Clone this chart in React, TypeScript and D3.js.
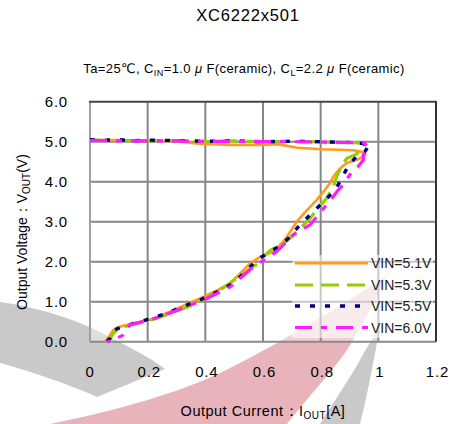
import React from "react";
import * as d3 from "d3";

// ---------- data (IOUT [A], VOUT [V]) ----------
const vin51: [number, number][] = [
  [0.0, 5.05], [0.05, 5.04], [0.1, 5.04], [0.15, 5.03], [0.2, 5.03], [0.25, 5.02], [0.3, 5.01],
  [0.35, 4.97], [0.4, 4.94], [0.45, 4.93], [0.49, 4.92], [0.55, 4.92], [0.6, 4.92], [0.65, 4.94],
  [0.72, 4.85], [0.8, 4.81], [0.87, 4.8], [0.92, 4.78], [0.945, 4.74], [0.955, 4.67],
  [0.93, 4.56], [0.89, 4.47], [0.867, 4.33], [0.844, 4.13], [0.832, 3.96], [0.81, 3.75],
  [0.786, 3.54], [0.75, 3.27], [0.717, 3.0], [0.69, 2.7], [0.67, 2.5], [0.635, 2.25],
  [0.59, 2.12], [0.555, 1.96], [0.52, 1.7], [0.486, 1.46], [0.44, 1.28], [0.393, 1.12],
  [0.34, 0.95], [0.289, 0.79], [0.24, 0.64], [0.202, 0.54], [0.16, 0.48], [0.127, 0.42],
  [0.1, 0.37], [0.081, 0.29], [0.065, 0.12], [0.052, 0.0],
];
const vin53: [number, number][] = [
  [0.0, 5.04], [0.05, 5.03], [0.1, 5.03], [0.2, 5.02], [0.3, 5.03], [0.4, 5.0], [0.5, 5.02],
  [0.6, 5.0], [0.7, 5.01], [0.8, 4.99], [0.9, 4.98], [0.953, 4.96], [0.948, 4.83],
  [0.919, 4.67], [0.89, 4.58], [0.872, 4.38], [0.855, 4.12], [0.844, 3.87], [0.82, 3.58],
  [0.79, 3.33], [0.763, 3.08], [0.717, 2.75], [0.68, 2.5], [0.625, 2.28], [0.601, 2.12],
  [0.59, 1.96], [0.57, 1.9], [0.52, 1.64], [0.451, 1.29], [0.4, 1.08], [0.358, 0.92],
  [0.29, 0.74], [0.231, 0.58], [0.18, 0.5], [0.139, 0.42], [0.1, 0.33], [0.081, 0.21],
  [0.07, 0.08], [0.058, 0.0],
];
const vin55: [number, number][] = [
  [0.0, 5.05], [0.05, 5.04], [0.1, 5.05], [0.15, 5.02], [0.2, 5.04], [0.3, 5.03], [0.4, 5.01],
  [0.5, 5.02], [0.6, 5.0], [0.7, 5.01], [0.8, 5.0], [0.9, 4.98], [0.971, 4.94],
  [0.953, 4.75], [0.925, 4.63], [0.902, 4.46], [0.885, 4.25], [0.867, 4.0], [0.85, 3.79],
  [0.815, 3.53], [0.78, 3.29], [0.728, 2.92], [0.69, 2.6], [0.66, 2.4], [0.624, 2.25],
  [0.578, 2.04], [0.54, 1.75], [0.497, 1.46], [0.44, 1.24], [0.381, 1.04], [0.32, 0.87],
  [0.266, 0.71], [0.22, 0.6], [0.173, 0.5], [0.116, 0.38], [0.081, 0.29], [0.069, 0.08],
  [0.058, 0.0],
];
const vin60: [number, number][] = [
  [0.0, 5.03], [0.05, 5.03], [0.1, 5.02], [0.2, 5.02], [0.3, 5.02], [0.4, 5.01], [0.5, 5.01],
  [0.6, 5.0], [0.7, 5.0], [0.8, 4.99], [0.9, 4.98], [0.953, 4.97], [0.965, 4.83],
  [0.959, 4.75], [0.948, 4.67], [0.948, 4.54], [0.93, 4.38], [0.913, 4.29], [0.896, 4.12],
  [0.879, 3.92], [0.861, 3.79], [0.835, 3.55], [0.81, 3.33], [0.763, 2.92], [0.705, 2.67],
  [0.675, 2.45], [0.647, 2.25], [0.566, 1.87], [0.52, 1.58], [0.486, 1.37], [0.393, 1.04],
  [0.289, 0.75], [0.208, 0.54], [0.139, 0.42], [0.127, 0.33], [0.116, 0.17], [0.081, 0.04],
  [0.058, 0.0],
];

const seriesLabels = ["VIN=5.1V", "VIN=5.3V", "VIN=5.5V", "VIN=6.0V"];
const seriesData = [vin51, vin53, vin55, vin60];
const xTicks = [0, 0.2, 0.4, 0.6, 0.8, 1, 1.2];
const yTicks = [0, 1, 2, 3, 4, 5, 6];

// ---------- styles ----------
const seriesStyle = [
  { color: "#FF9A1A", width: 2.6, dash: "" },
  { color: "#99CC00", width: 3.2, dash: "18 8" },
  { color: "#000080", width: 3.4, dash: "5 10" },
  { color: "#FF1AFF", width: 3.2, dash: "17 9 6 9" },
];

const W = 452;
const H = 424;
const PL = 90, PR = 436, PT = 101.7, PB = 341.7;
const FONT = "'Liberation Sans', Arial, 'DejaVu Sans', sans-serif";

export default function App() {
  const x = d3.scaleLinear().domain([0, 1.2]).range([PL, PR]);
  const y = d3.scaleLinear().domain([0, 6]).range([PB, PT]);
  const line = d3
    .line<[number, number]>()
    .x((d) => x(d[0]))
    .y((d) => y(d[1]))
    .curve(d3.curveLinear);

  const legendX0 = 295, legendX1 = 368, legendTextX = 371;
  const legendY = [263.3, 285, 306, 327.5];

  return (
    <svg
      width={W}
      height={H}
      style={{ position: "absolute", left: 0, top: 0, background: "#fff" }}
      fontFamily={FONT}
    >
      {/* watermark (decoration) */}
      <g>
        <path
          d="M0,302 C35,307 70,317 100,332 C125,345 150,357 165,369 L97,397 C75,387 40,374 0,363 Z"
          fill="#c9c9c9"
        />
        <path
          d="M387,275 C370,287 340,306 320,318 C290,336 255,356 220,373 C180,392 120,410 50,424 L287,424 C310,395 335,368 347,350 C360,330 375,300 387,275 Z"
          fill="#e9b3bb"
        />
        <path
          d="M377,331 C372,340 365,350 360,360 C350,378 335,400 320,424 L360,424 C366,400 372,370 378,337 Z"
          fill="#c9c9c9"
        />
      </g>

      {/* plot area */}
      <rect x={PL} y={PT} width={PR - PL} height={PB - PT} fill="#fff" fillOpacity={0.4} />

      {/* grid */}
      <g stroke="#878787" strokeWidth={2}>
        {xTicks.filter((t) => t > 0 && t < 1.2).map((t) => (
          <line key={"gx" + t} x1={x(t)} x2={x(t)} y1={PT} y2={PB} />
        ))}
        {yTicks.filter((t) => t > 0 && t < 6).map((t) => (
          <line key={"gy" + t} x1={PL} x2={PR} y1={y(t)} y2={y(t)} />
        ))}
      </g>
      {/* borders */}
      <line x1={PL} x2={PL} y1={PT} y2={PB} stroke="#a0a0a0" strokeWidth={2} />
      <line x1={PL} x2={PR} y1={PB} y2={PB} stroke="#8a8a8a" strokeWidth={2} />
      <line x1={PL - 1} x2={PR + 1} y1={PT} y2={PT} stroke="#444" strokeWidth={2} />
      <line x1={PR} x2={PR} y1={PT} y2={PB} stroke="#333" strokeWidth={2} />

      {/* series */}
      {seriesData.map((s, i) => (
        <path
          key={"s" + i}
          d={line(s) || ""}
          fill="none"
          stroke={seriesStyle[i].color}
          strokeWidth={seriesStyle[i].width}
          strokeDasharray={seriesStyle[i].dash}
          strokeLinejoin="round"
        />
      ))}

      {/* legend */}
      <rect x={292} y={255} width={141} height={83} fill="#fff" fillOpacity={0.55} />
      {seriesLabels.map((lab, i) => (
        <g key={"l" + i}>
          <line
            x1={legendX0}
            x2={legendX1}
            y1={legendY[i]}
            y2={legendY[i]}
            stroke={seriesStyle[i].color}
            strokeWidth={seriesStyle[i].width}
            strokeDasharray={seriesStyle[i].dash}
          />
          <text x={legendTextX} y={legendY[i] + 5} fontSize={14} fill="#222">
            {lab}
          </text>
        </g>
      ))}

      {/* axis tick labels */}
      {yTicks.map((t) => (
        <text key={"yt" + t} x={68} y={y(t) + 5.5} fontSize={15} letterSpacing={0.8} textAnchor="end" fill="#000">
          {t.toFixed(1)}
        </text>
      ))}
      {xTicks.map((t) => (
        <text key={"xt" + t} x={x(t) + (t === 0 ? 0 : 1.5)} y={377} fontSize={15} letterSpacing={0.8} textAnchor="middle" fill="#000">
          {String(t)}
        </text>
      ))}

      {/* titles */}
      <text x={248} y={21} fontSize={16.5} letterSpacing={0.8} textAnchor="middle" fill="#000">
        XC6222x501
      </text>
      <text x={244} y={73} fontSize={13} letterSpacing={0.4} textAnchor="middle" fill="#000">
        Ta=25℃, C
        <tspan fontSize={9} dy={3}>IN</tspan>
        <tspan dy={-3}>=1.0</tspan>
        <tspan fontStyle="italic"> μ</tspan> F(ceramic), C
        <tspan fontSize={9} dy={3}>L</tspan>
        <tspan dy={-3}>=2.2</tspan>
        <tspan fontStyle="italic"> μ</tspan> F(ceramic)
      </text>
      <text x={263} y={416} fontSize={14.5} letterSpacing={0.5} textAnchor="middle" fill="#000">
        Output Current：I
        <tspan fontSize={10} dy={3}>OUT</tspan>
        <tspan dy={-3}>[A]</tspan>
      </text>
      <text
        transform={`translate(27,232) rotate(-90)`}
        fontSize={14}
        textAnchor="middle"
        fill="#000"
      >
        Output Voltage：V
        <tspan fontSize={10} dy={3}>OUT</tspan>
        <tspan dy={-3}>(V)</tspan>
      </text>
    </svg>
  );
}
